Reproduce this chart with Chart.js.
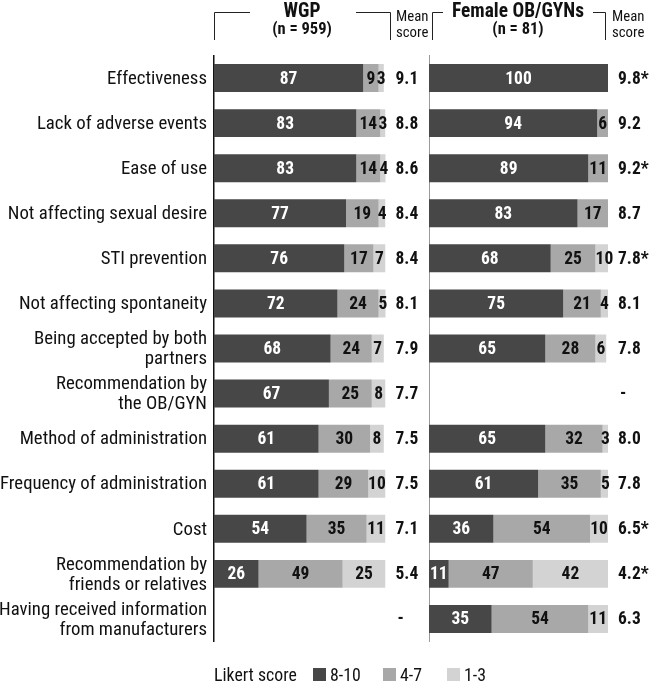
<!DOCTYPE html>
<html>
<head>
<meta charset="utf-8">
<script src="https://cdn.jsdelivr.net/npm/chart.js@4.4.1/dist/chart.umd.min.js"></script>
<style>
  body { margin: 0; background: #fff; }
  #wrap { position: relative; width: 650px; height: 686px; }
  #wrap canvas { position: absolute; left: 0; top: 0; }
</style>
</head>
<body>
<div id="wrap">
  <canvas id="wgpChart" width="650" height="686"></canvas>
  <canvas id="obChart" width="650" height="686"></canvas>
</div>
<script>
// data
const categories = [
  'Effectiveness',
  'Lack of adverse events',
  'Ease of use',
  'Not affecting sexual desire',
  'STI prevention',
  'Not affecting spontaneity',
  ['Being accepted by both', 'partners'],
  ['Recommendation by', 'the OB/GYN'],
  'Method of administration',
  'Frequency of administration',
  'Cost',
  ['Recommendation by', 'friends or relatives'],
  ['Having received information', 'from manufacturers']
];
const scoreLabels = ['8-10', '4-7', '1-3'];

const wgpHigh = [87, 83, 83, 77, 76, 72, 68, 67, 61, 61, 54, 26, null];
const wgpMid  = [9, 14, 14, 19, 17, 24, 24, 25, 30, 29, 35, 49, null];
const wgpLow  = [3, 3, 4, 4, 7, 5, 7, 8, 8, 10, 11, 25, null];
const wgpMean = ['9.1', '8.8', '8.6', '8.4', '8.4', '8.1', '7.9', '7.7', '7.5', '7.5', '7.1', '5.4', '-'];

const obHigh = [100, 94, 89, 83, 68, 75, 65, null, 65, 61, 36, 11, 35];
const obMid  = [0, 6, 11, 17, 25, 21, 28, null, 32, 35, 54, 47, 54];
const obLow  = [0, 0, 0, 0, 10, 4, 6, null, 3, 5, 10, 42, 11];
const obMean = ['9.8*', '9.2', '9.2*', '8.7', '7.8*', '8.1', '7.8', '-', '8.0', '7.8', '6.5*', '4.2*', '6.3'];

const colors = ['#474747', '#a8a8a8', '#d3d3d3'];
const textColors = ['#ffffff', '#111111', '#111111'];
const FONT = "'Roboto Condensed', Roboto, sans-serif";

// the original uses a condensed face; squeeze Roboto to the same widths
let kReg = 0.8, kBold = 0.8;
function measureK(ctx) {
  ctx.save();
  ctx.font = '19px ' + FONT;
  kReg = 207 / ctx.measureText('Frequency of administration').width;
  ctx.font = 'bold 20px ' + FONT;
  kBold = 132 / ctx.measureText('Female OB/GYNs').width;
  ctx.restore();
}
function txt(ctx, s, x, y, align, k) {
  ctx.save();
  ctx.translate(x, y);
  ctx.scale(k, 1);
  ctx.textAlign = align;
  ctx.fillText(s, 0, 0);
  ctx.restore();
}

function makeDatasets(high, mid, low) {
  return [high, mid, low].map(function (d, i) {
    return {
      label: scoreLabels[i],
      data: d,
      backgroundColor: colors[i],
      borderWidth: 0,
      barPercentage: 0.62,
      categoryPercentage: 1
    };
  });
}

// numbers inside bars + mean score column (+ category names)
function valuePlugin(means, withLabels) {
  return {
    id: 'values',
    afterDatasetsDraw: function (chart) {
      const ctx = chart.ctx;
      measureK(ctx);
      ctx.save();
      ctx.textBaseline = 'middle';
      ctx.font = 'bold 18px ' + FONT;
      chart.data.datasets.forEach(function (ds, i) {
        const meta = chart.getDatasetMeta(i);
        meta.data.forEach(function (bar, j) {
          const v = ds.data[j];
          if (!v) return;
          ctx.fillStyle = textColors[i];
          txt(ctx, String(v), (bar.x + bar.base) / 2, bar.y + 1, 'center', kBold);
        });
      });
      const yScale = chart.scales.y;
      ctx.fillStyle = '#111';
      means.forEach(function (m, j) {
        const x = chart.chartArea.right + (m === '-' ? 12 : 10);
        txt(ctx, m, x, yScale.getPixelForValue(j) + 1, 'left', kBold);
      });
      if (withLabels) {
        ctx.font = '19px ' + FONT;
        chart.data.labels.forEach(function (lab, j) {
          const lines = Array.isArray(lab) ? lab : [lab];
          const yc = yScale.getPixelForValue(j);
          lines.forEach(function (line, n) {
            const y = yc + (n - (lines.length - 1) / 2) * 20 + 1;
            txt(ctx, line, chart.chartArea.left - 7, y, 'right', kReg);
          });
        });
      }
      ctx.restore();
    }
  };
}

// headers, brackets and legend
const decoPlugin = {
  id: 'deco',
  afterDraw: function (chart) {
    const ctx = chart.ctx;
    ctx.save();
    ctx.strokeStyle = '#222';
    ctx.lineWidth = 1;
    function bracket(x1, x2, a, b) {
      ctx.beginPath();
      ctx.moveTo(x1 + 0.5, 40); ctx.lineTo(x1 + 0.5, 12.5); ctx.lineTo(a, 12.5);
      ctx.moveTo(b, 12.5); ctx.lineTo(x2 + 0.5, 12.5); ctx.lineTo(x2 + 0.5, 40);
      ctx.stroke();
    }
    bracket(214, 390, 250, 356);
    bracket(432, 605, 443, 593);

    ctx.fillStyle = '#111';
    ctx.textBaseline = 'middle';
    ctx.font = 'bold 20px ' + FONT;
    txt(ctx, 'WGP', 302, 12, 'center', kBold);
    txt(ctx, 'Female OB/GYNs', 518, 12, 'center', kBold);
    ctx.font = 'bold 17px ' + FONT;
    txt(ctx, '(n = 959)', 302, 30, 'center', kBold);
    txt(ctx, '(n = 81)', 518, 30, 'center', kBold);

    ctx.font = '15px ' + FONT;
    txt(ctx, 'Mean', 396, 17, 'left', kReg);
    txt(ctx, 'score', 396, 33, 'left', kReg);
    txt(ctx, 'Mean', 612, 17, 'left', kReg);
    txt(ctx, 'score', 612, 33, 'left', kReg);

    // legend
    ctx.font = '18px ' + FONT;
    txt(ctx, 'Likert score', 214, 676, 'left', kReg);
    const boxX = [313, 383, 447];
    scoreLabels.forEach(function (lab, i) {
      ctx.fillStyle = colors[i];
      ctx.fillRect(boxX[i], 668, 13, 13);
      ctx.fillStyle = '#111';
      txt(ctx, lab, boxX[i] + 17, 676, 'left', kReg);
    });
    ctx.restore();
  }
};

function baseOptions(pad, yOpts) {
  return {
    indexAxis: 'y',
    responsive: false,
    animation: false,
    layout: { padding: pad },
    plugins: { legend: { display: false }, tooltip: { enabled: false } },
    scales: {
      x: { stacked: true, min: 0, max: 100, display: false },
      y: yOpts
    }
  };
}

const wgpChart = new Chart(document.getElementById('wgpChart'), {
  type: 'bar',
  data: { labels: categories, datasets: makeDatasets(wgpHigh, wgpMid, wgpLow) },
  options: baseOptions({ left: 0, top: 55.5, bottom: 44.5, right: 264.5 }, {
    stacked: true,
    grid: { display: false },
    border: { color: '#111', width: 1.5 },
    ticks: { display: false },
    afterFit: function (scale) { scale.width = 214; }
  }),
  plugins: [valuePlugin(wgpMean, true), decoPlugin]
});

const obChart = new Chart(document.getElementById('obChart'), {
  type: 'bar',
  data: { labels: categories, datasets: makeDatasets(obHigh, obMid, obLow) },
  options: baseOptions({ left: 0, top: 55.5, bottom: 44.5, right: 42 }, {
    stacked: true,
    grid: { display: false },
    border: { color: '#9a9a9a', width: 1 },
    ticks: { display: false },
    afterFit: function (scale) { scale.width = 429; }
  }),
  plugins: [valuePlugin(obMean, false)]
});
</script>
</body>
</html>
